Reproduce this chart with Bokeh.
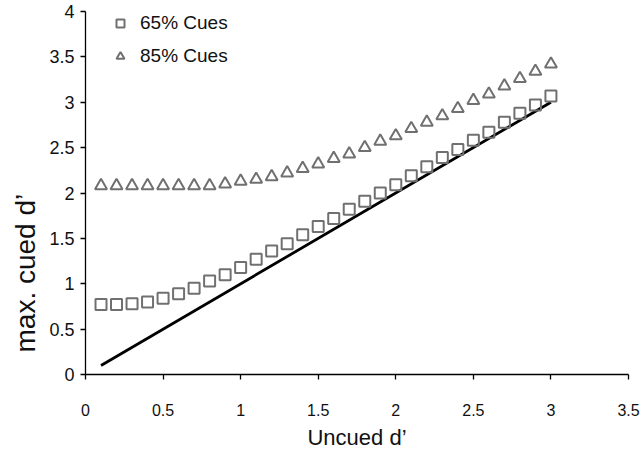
from bokeh.plotting import figure
from bokeh.models import Range1d, FixedTicker, Legend, LegendItem, Title
from bokeh.embed import file_html
from bokeh.resources import INLINE

# ---- data ----
uncued = [0.1, 0.2, 0.3, 0.4, 0.5, 0.6, 0.7, 0.8, 0.9, 1.0,
          1.1, 1.2, 1.3, 1.4, 1.5, 1.6, 1.7, 1.8, 1.9, 2.0,
          2.1, 2.2, 2.3, 2.4, 2.5, 2.6, 2.7, 2.8, 2.9, 3.0]
cues65 = [0.77, 0.77, 0.78, 0.80, 0.84, 0.89, 0.95, 1.03, 1.10, 1.18,
          1.27, 1.36, 1.44, 1.54, 1.63, 1.72, 1.82, 1.91, 2.00, 2.09,
          2.19, 2.29, 2.39, 2.48, 2.58, 2.67, 2.78, 2.88, 2.97, 3.07]
cues85 = [2.08, 2.08, 2.08, 2.08, 2.08, 2.08, 2.08, 2.08, 2.10, 2.13,
          2.15, 2.18, 2.22, 2.27, 2.32, 2.38, 2.43, 2.50, 2.57, 2.63,
          2.71, 2.78, 2.85, 2.93, 3.02, 3.09, 3.18, 3.26, 3.34, 3.42]
line_x = [0.1, 3.0]
line_y = [0.1, 3.0]

x_ticks = [0, 0.5, 1, 1.5, 2, 2.5, 3, 3.5]
x_tick_labels = ["0", "0.5", "1", "1.5", "2", "2.5", "3", "3.5"]
y_ticks = [0, 0.5, 1, 1.5, 2, 2.5, 3, 3.5, 4]
y_tick_labels = ["0", "0.5", "1", "1.5", "2", "2.5", "3", "3.5", "4"]

series_names = ["65% Cues", "85% Cues"]
x_label = "Uncued d\u2019"
y_label = "max. cued d\u2019"

FONT = "Liberation Sans"
GRAY = "#707070"

p = figure(width=642, height=452, output_backend="svg", toolbar_location=None,
           x_range=Range1d(0, 3.5), y_range=Range1d(0, 4),
           min_border_left=85, min_border_right=14,
           min_border_top=11, min_border_bottom=78)
p.outline_line_color = None
p.xgrid.visible = False
p.ygrid.visible = False
p.background_fill_color = "white"
p.border_fill_color = "white"

p.line(line_x, line_y, line_color="black", line_width=2.8)
r65 = p.scatter(uncued, cues65, marker="square", size=11, fill_color=None,
                line_color=GRAY, line_width=2)
r85 = p.scatter(uncued, cues85, marker="triangle", size=12, fill_color=None,
                line_color=GRAY, line_width=2)

for ax, ticks, labels in ((p.xaxis[0], x_ticks, x_tick_labels),
                          (p.yaxis[0], y_ticks, y_tick_labels)):
    ax.ticker = FixedTicker(ticks=ticks)
    ax.major_label_overrides = {t: l for t, l in zip(ticks, labels)}
    ax.minor_tick_line_color = None
    ax.major_tick_in = 0
    ax.major_tick_out = 5
    ax.major_tick_line_color = "black"
    ax.major_tick_line_width = 1.3
    ax.axis_line_color = "black"
    ax.axis_line_width = 1.3
    ax.major_label_text_font = FONT
    ax.major_label_text_color = "#111111"

p.xaxis.major_label_text_font_size = "16px"
p.yaxis.major_label_text_font_size = "18px"
p.xaxis.axis_label = x_label
p.xaxis.axis_label_text_font = FONT
p.xaxis.axis_label_text_font_style = "normal"
p.xaxis.axis_label_text_color = "#111111"
p.xaxis.axis_label_text_font_size = "22px"
p.xaxis.major_label_standoff = 24
p.xaxis.axis_label_standoff = 6
p.yaxis.major_label_standoff = 6

ytitle = Title(text=y_label, align="left", vertical_align="top", offset=22,
               standoff=8, text_font=FONT, text_font_size="28px",
               text_font_style="normal", text_color="#111111")
p.add_layout(ytitle, "left")

legend = Legend(items=[LegendItem(label=series_names[0], renderers=[r65]),
                       LegendItem(label=series_names[1], renderers=[r85])],
                location=(25, 307), padding=0, margin=0, spacing=11,
                glyph_width=20, glyph_height=20, label_height=20,
                label_standoff=10, border_line_color=None,
                background_fill_alpha=0,
                label_text_font=FONT, label_text_font_size="19px",
                label_text_color="#111111")
p.add_layout(legend)

open("out.html", "w").write(file_html(p, INLINE))
